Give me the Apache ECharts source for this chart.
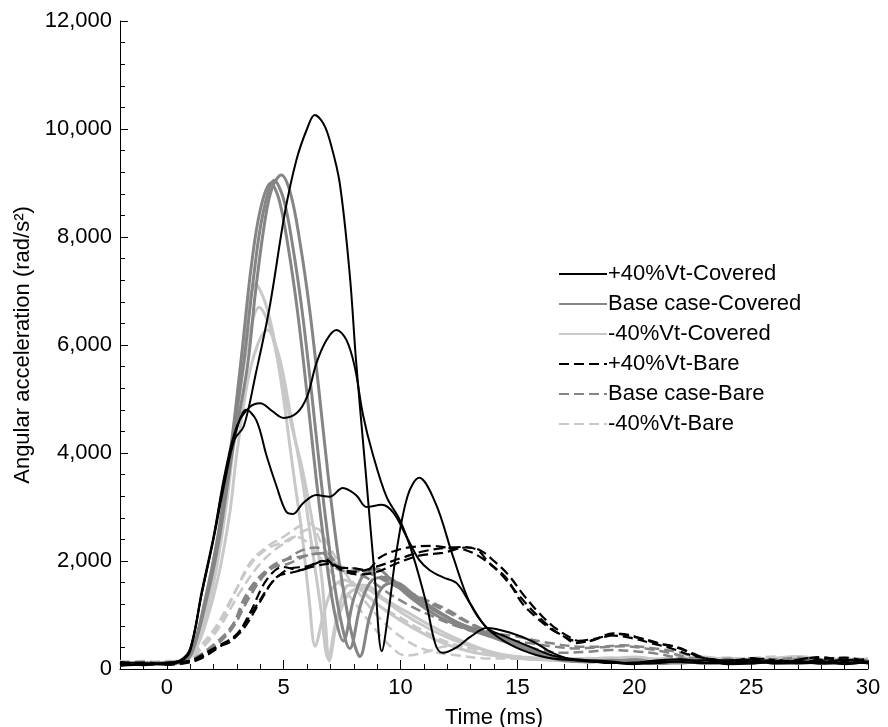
<!DOCTYPE html>
<html>
<head>
<meta charset="utf-8">
<script src="https://cdn.jsdelivr.net/npm/echarts@6/dist/echarts.min.js"></script>
<style>
  html, body { margin: 0; padding: 0; background: #fff; }
  #main { width: 888px; height: 727px; }
</style>
</head>
<body>
<div id="main"></div>
<script>
// legend names, one per test condition
var names = ["+40%Vt-Covered", "Base case-Covered", "-40%Vt-Covered",
             "+40%Vt-Bare", "Base case-Bare", "-40%Vt-Bare"];
var xLabels = [0, 5, 10, 15, 20, 25, 30];

// +40%Vt-Covered (three runs), [time ms, rad/s^2]
var plusCovered1 = [[-2,60],[-1,90],[0,110],[0.6,170],[1.0,380],[1.5,1400],[2.0,2400],[2.5,3500],[2.9,4250],[3.3,4500],[3.8,5450],[4.4,6700],[5.05,8440],[5.55,9430],[6.0,10000],[6.33,10260],[6.7,10100],[7.0,9750],[7.4,9000],[7.83,7300],[8.1,5700],[8.5,3700],[8.9,1700],[9.2,330],[9.5,1100],[9.8,2100],[10.3,3200],[10.8,3540],[11.5,3070],[12.25,2080],[12.97,1220],[13.7,760],[14.7,450],[15.8,260],[16.8,180],[18,150],[19,110],[20,120],[21,160],[22,180],[23,120],[24,100],[25,140],[26,150],[27,110],[28,120],[29,170],[30,100]];
var plusCovered2 = [[-2,100],[-1,70],[0,120],[0.6,160],[1.0,350],[1.5,1450],[2.0,2450],[2.5,3650],[3.0,4500],[3.55,4850],[4.0,4920],[4.5,4780],[5.0,4650],[5.56,4740],[6.0,5040],[6.4,5660],[6.83,6090],[7.26,6280],[7.69,6090],[8.04,5600],[8.4,4700],[8.8,4000],[9.4,3190],[9.97,2760],[10.5,2150],[11.1,1220],[11.5,450],[11.8,300],[12.4,400],[13.0,600],[13.7,760],[14.7,670],[15.7,500],[16.5,300],[17.5,160],[19,120],[20,90],[21,150],[22,130],[23,110],[24,160],[25,170],[26,100],[27,120],[28,150],[29,90],[30,140]];
var plusCovered3 = [[-2,120],[-1,110],[0,80],[0.6,140],[1.0,330],[1.5,1400],[2.0,2420],[2.5,3600],[3.0,4450],[3.4,4800],[3.84,4600],[4.27,3950],[4.7,3380],[5.1,2920],[5.4,2870],[5.83,3070],[6.4,3220],[6.97,3190],[7.53,3350],[8.1,3220],[8.55,3000],[9.2,3040],[9.7,2890],[10.27,2440],[10.8,2020],[11.25,1830],[11.8,1700],[12.4,1590],[12.97,1220],[13.7,760],[14.5,600],[15.5,420],[16.5,250],[17.5,180],[19,140],[20,100],[21,110],[22,150],[23,160],[24,90],[25,100],[26,130],[27,150],[28,100],[29,120],[30,110]];

// Base case-Covered
var baseCovered1 = [[-2,90],[-1,110],[0,100],[0.7,150],[1.1,350],[1.6,1100],[2.2,2300],[2.8,4000],[3.45,5600],[3.8,7000],[4.2,8300],[4.5,8900],[4.9,9150],[5.3,8800],[5.7,7900],[6.1,6700],[6.5,5200],[6.9,3600],[7.3,2200],[7.7,1100],[8.0,500],[8.26,230],[8.7,1000],[9.2,1500],[9.8,1600],[10.5,1400],[11.5,1100],[12.5,850],[13.5,700],[14.5,560],[15.5,400],[16.5,230],[17.5,150],[19,140],[20,170],[21,120],[22,110],[23,150],[24,120],[25,110],[26,160],[27,150],[28,100],[29,130],[30,120]];
var baseCovered2 = [[-2,70],[-1,100],[0,120],[0.7,140],[1.1,330],[1.6,1150],[2.2,2400],[2.8,4200],[3.3,5700],[3.7,7200],[4.1,8400],[4.6,9050],[5.0,8700],[5.4,7800],[5.8,6600],[6.2,5100],[6.6,3500],[7.0,2100],[7.4,1000],[7.83,380],[8.3,1200],[8.8,1650],[9.4,1700],[10.2,1450],[11,1200],[12,950],[13,750],[14,600],[15,450],[16,280],[17,170],[18,130],[19,150],[20,110],[21,140],[22,160],[23,100],[24,130],[25,150],[26,110],[27,100],[28,140],[29,150],[30,110]];
var baseCovered3 = [[-2,110],[-1,90],[0,100],[0.7,160],[1.1,360],[1.6,1200],[2.2,2500],[2.8,4300],[3.2,5800],[3.6,7400],[4.0,8500],[4.45,9000],[4.8,8700],[5.2,7800],[5.6,6600],[6.0,5100],[6.4,3500],[6.8,2100],[7.2,1000],[7.55,520],[8.0,1300],[8.5,1800],[9.0,1850],[9.7,1600],[10.5,1300],[11.5,1000],[12.5,800],[13.5,650],[14.5,500],[15.5,350],[16.5,200],[17.5,140],[19,160],[20,130],[21,100],[22,140],[23,170],[24,110],[25,130],[26,120],[27,160],[28,110],[29,100],[30,150]];

// -40%Vt-Covered
var minusCovered1 = [[-2,70],[-1,120],[0,90],[0.7,130],[1.1,300],[1.6,900],[2.1,1900],[2.6,3400],[3.0,5000],[3.4,6400],[3.8,7130],[4.2,6800],[4.6,6100],[5.0,5000],[5.4,3700],[5.8,2450],[6.1,1250],[6.35,420],[6.7,1000],[7.1,1500],[7.6,1650],[8.2,1500],[9,1200],[10,900],[11,650],[12,450],[13,320],[14,250],[15.5,180],[17,170],[18,200],[19,150],[20,130],[21,190],[22,160],[23,130],[24,200],[25,170],[26,150],[27,200],[28,170],[29,180],[30,150]];
var minusCovered2 = [[-2,90],[-1,100],[0,110],[0.7,120],[1.1,280],[1.6,850],[2.1,1800],[2.6,3200],[3.0,4700],[3.5,6100],[3.95,6700],[4.4,6350],[4.9,5400],[5.4,4400],[5.8,3700],[6.2,2800],[6.6,1800],[6.8,800],[6.95,150],[7.3,900],[7.8,1400],[8.4,1500],[9.2,1300],[10.2,1000],[11.2,750],[12.2,550],[13.2,400],[14.2,280],[15.5,200],[17,160],[18,180],[19,210],[20,170],[21,150],[22,190],[23,220],[24,160],[25,140],[26,180],[27,210],[28,160],[29,140],[30,180]];
var minusCovered3 = [[-2,100],[-1,80],[0,120],[0.7,140],[1.1,260],[1.6,750],[2.2,1700],[2.7,2900],[3.0,4000],[3.6,5600],[4.3,6280],[4.8,5800],[5.3,4700],[5.8,3500],[6.2,2300],[6.6,1100],[6.9,200],[7.3,1000],[7.8,1550],[8.5,1550],[9.3,1300],[10.3,1050],[11.3,800],[12.3,580],[13.3,400],[14.3,270],[16,190],[17,150],[18,170],[19,190],[20,220],[21,170],[22,140],[23,180],[24,190],[25,150],[26,200],[27,230],[28,180],[29,160],[30,190]];

// +40%Vt-Bare
var plusBare1 = [[-2,110],[-1,80],[0,100],[0.8,120],[1.4,230],[2.0,380],[2.84,540],[3.55,1030],[4.27,1650],[4.97,1890],[5.7,1830],[6.4,1960],[6.84,2020],[7.27,1870],[7.83,1870],[8.55,1830],[9.1,2060],[9.84,2200],[10.5,2260],[11.4,2280],[12.0,2250],[12.7,2260],[13.3,2200],[13.8,1960],[14.5,1700],[15.2,1220],[15.8,960],[16.4,750],[17.0,600],[17.5,480],[18.25,540],[19.1,660],[19.95,600],[20.95,480],[21.8,410],[22.5,290],[23.2,180],[24,120],[25,200],[26,130],[27,170],[28,220],[29,150],[30,190]];
var plusBare2 = [[-2,90],[-1,120],[0,80],[0.8,110],[1.4,180],[2.4,450],[3.2,700],[4.0,1250],[4.7,1700],[5.5,1800],[6.3,1900],[7.0,1950],[7.6,1800],[8.3,1750],[9.0,1800],[9.8,1950],[10.8,2100],[11.8,2150],[12.8,2250],[13.4,2200],[14.0,2000],[14.6,1750],[15.3,1350],[15.9,1050],[16.5,800],[17.2,600],[17.8,500],[18.6,580],[19.4,650],[20.3,570],[21.2,460],[22.0,370],[22.8,220],[24,150],[25,110],[26,170],[27,110],[28,180],[29,210],[30,130]];
var plusBare3 = [[-2,130],[-1,100],[0,110],[0.8,140],[1.4,200],[2.2,420],[3.0,650],[3.8,1150],[4.5,1600],[5.2,1850],[6.0,1900],[6.7,2000],[7.3,1900],[8.0,1800],[9.0,1900],[10,2050],[11,2180],[12,2240],[12.8,2200],[13.5,2050],[14.2,1800],[14.9,1450],[15.5,1150],[16.2,850],[16.8,650],[17.5,520],[18.3,560],[19,620],[19.8,580],[20.8,470],[21.6,380],[22.4,260],[23.5,170],[24.5,130],[25.5,190],[26.5,120],[27.5,200],[28.5,140],[29.5,170],[30,120]];

// Base case-Bare
var baseBare1 = [[-2,120],[-1,90],[0,110],[0.8,130],[1.2,200],[2.0,450],[2.8,800],[3.3,1300],[3.84,1650],[4.7,1960],[5.7,2080],[6.55,2140],[7.0,2020],[7.4,1830],[8.4,1800],[9.84,1520],[11.25,1220],[12.7,900],[13.7,700],[14.96,600],[16.4,480],[17.8,410],[18.5,410],[19.5,440],[20.7,390],[21.8,320],[22.5,240],[24,140],[25,190],[26,180],[27,120],[28,120],[29,170],[30,160]];
var baseBare2 = [[-2,100],[-1,130],[0,90],[0.8,120],[1.2,180],[2.0,400],[2.8,750],[3.5,1300],[4.2,1750],[5.0,2000],[5.8,2200],[6.4,2250],[6.9,2050],[7.5,1850],[8.5,1700],[9.5,1400],[10.5,1150],[11.5,950],[12.5,780],[13.5,650],[14.5,550],[15.5,480],[16.5,420],[17.5,380],[18.5,400],[19.5,420],[20.5,380],[21.5,300],[22.5,200],[24,150],[25,200],[26,130],[27,180],[28,140],[29,200],[30,150]];
var baseBare3 = [[-2,80],[-1,110],[0,120],[0.8,140],[1.2,200],[2.0,420],[2.8,800],[3.6,1450],[4.4,1850],[5.2,1950],[6.0,2100],[6.8,2150],[7.4,1900],[8.2,1850],[9.0,1750],[10,1500],[11,1300],[12,1100],[13,850],[14,650],[15,480],[16,350],[17,300],[18,320],[19,350],[20,330],[21,280],[22,200],[23,160],[24,190],[25,130],[26,170],[27,210],[28,150],[29,120],[30,170]];

// -40%Vt-Bare
var minusBare1 = [[-2,150],[-1,120],[0,130],[0.8,150],[1.3,350],[2.1,720],[2.84,1340],[3.55,1960],[4.27,2260],[4.97,2440],[5.7,2650],[6.1,2700],[6.7,2260],[7.4,1890],[8.2,1500],[9.0,1200],[10,950],[11,700],[12,500],[13,380],[14,280],[15,220],[16,180],[17,160],[18,190],[19,150],[20,200],[21,170],[22,140],[23,190],[24,210],[25,160],[26,180],[27,220],[28,170],[29,200],[30,160]];
var minusBare2 = [[-2,120],[-1,150],[0,110],[0.8,140],[1.4,400],[2.2,850],[3.0,1500],[3.7,2000],[4.4,2250],[5.0,2350],[5.5,2450],[6.0,2350],[6.5,2100],[7.2,1700],[8.0,1250],[8.8,800],[9.5,450],[10.2,250],[11,300],[12,420],[13,380],[14,280],[15,230],[16,200],[17,170],[18,200],[19,180],[20,150],[21,190],[22,220],[23,170],[24,150],[25,200],[26,230],[27,170],[28,190],[29,210],[30,170]];
var minusBare3 = [[-2,140],[-1,110],[0,150],[0.8,150],[1.5,380],[2.3,800],[3.1,1400],[3.9,1900],[4.6,2200],[5.3,2400],[6.0,2580],[6.4,2600],[6.9,2300],[7.6,1800],[8.4,1300],[9.2,900],[10,600],[10.8,400],[11.6,300],[12.5,250],[13.5,200],[15,190],[16,170],[17,200],[18,160],[19,180],[20,210],[21,160],[22,180],[23,150],[24,200],[25,180],[26,150],[27,190],[28,220],[29,170],[30,190]];

var dom = document.getElementById("main");
var myChart = echarts.init(dom, null, { renderer: "canvas" });

var font = "Arial, 'Liberation Sans', sans-serif";

function makeLine(name, data, color, width, dashed) {
  return {
    name: name,
    type: "line",
    data: data,
    smooth: 0.35,
    showSymbol: false,
    symbol: "none",
    animation: false,
    lineStyle: { color: color, width: width, type: dashed ? [10, 5] : "solid" },
    itemStyle: { color: color }
  };
}

var lightGray = "#c8c8c8";
var midGray = "#858585";

var series = [
  makeLine(names[5], minusBare1, lightGray, 2.5, true),
  makeLine(names[5], minusBare2, lightGray, 2.5, true),
  makeLine(names[5], minusBare3, lightGray, 2.5, true),
  makeLine(names[2], minusCovered1, lightGray, 3, false),
  makeLine(names[2], minusCovered2, lightGray, 3, false),
  makeLine(names[2], minusCovered3, lightGray, 3, false),
  makeLine(names[4], baseBare1, midGray, 2.5, true),
  makeLine(names[4], baseBare2, midGray, 2.5, true),
  makeLine(names[4], baseBare3, midGray, 2.5, true),
  makeLine(names[1], baseCovered1, midGray, 3, false),
  makeLine(names[1], baseCovered2, midGray, 3, false),
  makeLine(names[1], baseCovered3, midGray, 3, false),
  makeLine(names[3], plusBare1, "#000", 2.2, true),
  makeLine(names[3], plusBare2, "#000", 2.2, true),
  makeLine(names[3], plusBare3, "#000", 2.2, true),
  makeLine(names[0], plusCovered1, "#000", 2, false),
  makeLine(names[0], plusCovered2, "#000", 2, false),
  makeLine(names[0], plusCovered3, "#000", 2, false)
];

var option = {
  backgroundColor: "#fff",
  animation: false,
  textStyle: { fontFamily: font },
  grid: { left: 120, right: 20, top: 21, bottom: 58, outerBoundsMode: "none", containLabel: false },
  legend: {
    data: names,
    orient: "vertical",
    left: 553,
    top: 258,
    itemWidth: 48,
    itemHeight: 14,
    itemGap: 8,
    itemStyle: { opacity: 0 },
    textStyle: { fontFamily: font, fontSize: 22, color: "#000", padding: [0, 0, 0, -4] }
  },
  xAxis: [
    {
      type: "value",
      min: -2,
      max: 30,
      interval: 1,
      name: "Time (ms)",
      nameLocation: "middle",
      nameGap: 38,
      nameTextStyle: { fontFamily: font, fontSize: 22, color: "#000" },
      axisLine: { lineStyle: { color: "#000", width: 1 } },
      axisTick: { inside: true, length: 5, lineStyle: { color: "#000" } },
      axisLabel: {
        fontFamily: font, fontSize: 22, color: "#000", margin: 8,
        formatter: function (v) { return xLabels.indexOf(v) >= 0 ? String(v) : ""; }
      },
      splitLine: { show: false }
    },
    {
      type: "value",
      min: -2,
      max: 30,
      position: "bottom",
      axisLine: { show: false },
      axisTick: { inside: true, length: 9, customValues: xLabels, lineStyle: { color: "#000" } },
      axisLabel: { show: false },
      splitLine: { show: false }
    }
  ],
  yAxis: {
    type: "value",
    min: 0,
    max: 12000,
    interval: 2000,
    name: "Angular acceleration (rad/s²)",
    nameLocation: "middle",
    nameGap: 78,
    nameTextStyle: { fontFamily: font, fontSize: 22, color: "#000" },
    axisLine: { show: true, onZero: false, lineStyle: { color: "#000", width: 1 } },
    axisTick: { show: true, inside: true, length: 8, lineStyle: { color: "#000" } },
    minorTick: { show: true, splitNumber: 5, length: 5, lineStyle: { color: "#000" } },
    axisLabel: {
      fontFamily: font, fontSize: 22, color: "#000", margin: 8,
      formatter: function (v) { return v.toLocaleString("en-US"); }
    },
    splitLine: { show: false }
  },
  series: series
};

myChart.setOption(option);
window.addEventListener("resize", myChart.resize);
</script>
</body>
</html>
